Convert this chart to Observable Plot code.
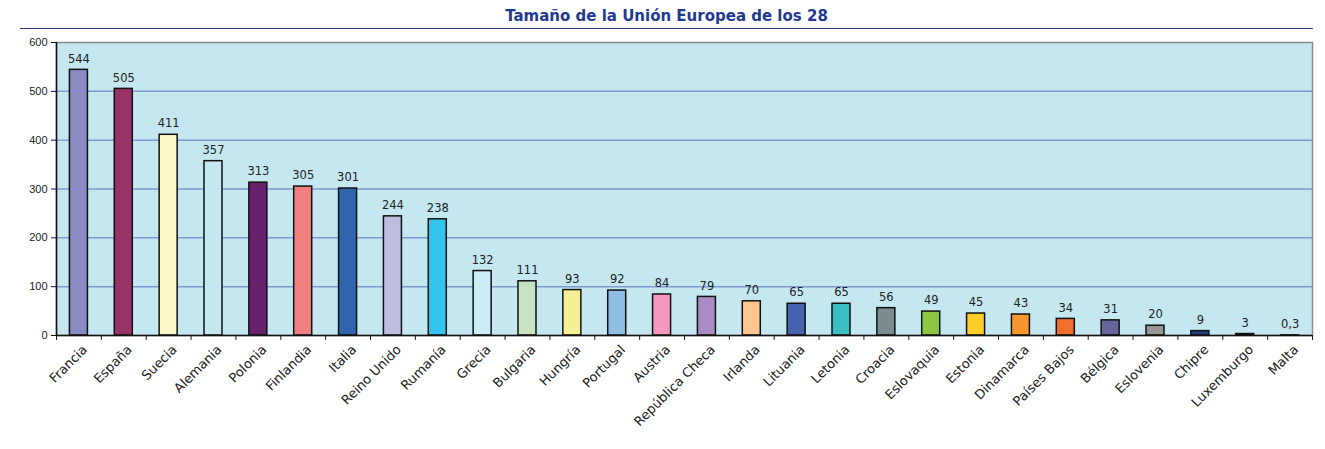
<!DOCTYPE html>
<html>
<head>
<meta charset="utf-8">
<script src="https://cdn.jsdelivr.net/npm/d3@7"></script>
<script src="https://cdn.jsdelivr.net/npm/@observablehq/plot@0.6"></script>
<style>
  html, body { margin: 0; padding: 0; background: #fff; }
  #title { margin-left: 20px; width: 1293px; height: 28px; border-bottom: 1px solid #2b3f8f;
    font: bold 15px "DejaVu Sans", sans-serif; color: #1f3a93; text-align: center; line-height: 32px; }
  #chart { height: 420px; }
</style>
</head>
<body>
<div id="title">Tamaño de la Unión Europea de los 28</div>
<div id="chart"></div>
<script>
const countries = ["Francia","España","Suecia","Alemania","Polonia","Finlandia","Italia","Reino Unido","Rumanía","Grecia","Bulgaria","Hungría","Portugal","Austria","República Checa","Irlanda","Lituania","Letonia","Croacia","Eslovaquia","Estonia","Dinamarca","Países Bajos","Bélgica","Eslovenia","Chipre","Luxemburgo","Malta"];
const sizes = [544,505,411,357,313,305,301,244,238,132,111,93,92,84,79,70,65,65,56,49,45,43,34,31,20,9,3,0.3];
const barColors = ["#8b8bc3","#993366","#fbf7c7","#c4e7f0","#66216b","#f08080","#2f65ad","#bcbde0","#33c4ee","#c9ecf5","#c7e3c1","#f5f096","#8fbde6","#f598c0","#a98cc3","#fdc590","#4562ad","#3cbfc4","#7a8c8f","#8dc642","#fdcd2a","#f7962f","#f26e2c","#66669b","#969696","#1f3c78","#111111","#111111"];
const yTicks = [0,100,200,300,400,500,600];

const data = countries.map((c, i) => ({country: c, value: sizes[i], color: barColors[i]}));
const W = 1325, ML = 56, MR = 13;
const step = (W - ML - MR) / countries.length;
const inset = (step - 18) / 2;
const fmt = v => String(v).replace(".", ",");

const chart = Plot.plot({
  width: W, height: 419,
  marginLeft: ML, marginRight: MR, marginTop: 13, marginBottom: 113,
  style: {fontFamily: "DejaVu Sans, sans-serif", fontSize: "13px", color: "#222", background: "#fff"},
  x: {domain: countries, padding: 0, round: false, label: null},
  y: {domain: [0, 600], label: null},
  marks: [
    Plot.frame({fill: "#c4e7f0", stroke: "#8c8c8c", strokeWidth: 1.5}),
    Plot.ruleY(yTicks.filter(t => t > 0 && t < 600), {stroke: "#7f9ad3", strokeWidth: 1.5}),
    Plot.barY(data, {x: "country", y: "value", fill: "color", stroke: "#111", strokeWidth: 1.5, insetLeft: inset, insetRight: inset}),
    Plot.text(data, {x: "country", y: "value", text: d => fmt(d.value), dy: -11, fontSize: 11.5, fill: "#222", fontFamily: "DejaVu Sans, sans-serif"}),
    Plot.ruleY([0], {stroke: "#111", strokeWidth: 1.5}),
    Plot.ruleX([countries[0]], {y1: 0, y2: 600, dx: -step / 2, stroke: "#111", strokeWidth: 1.5}),
    Plot.ruleX(countries, {y1: 0, y2: -10, dx: -step / 2, stroke: "#111"}),
    Plot.ruleX([countries[countries.length - 1]], {y1: 0, y2: -10, dx: step / 2, stroke: "#111"}),
    Plot.axisY({ticks: yTicks, tickSize: 5, tickFormat: d => d, fontFamily: "Liberation Sans, Arial, sans-serif", fontSize: 11, stroke: "#111"}),
    Plot.axisX({tickSize: 0, tickRotate: -45, tickPadding: 12, dx: 6, fontSize: 13})
  ]
});
document.getElementById("chart").appendChild(chart);
</script>
</body>
</html>
